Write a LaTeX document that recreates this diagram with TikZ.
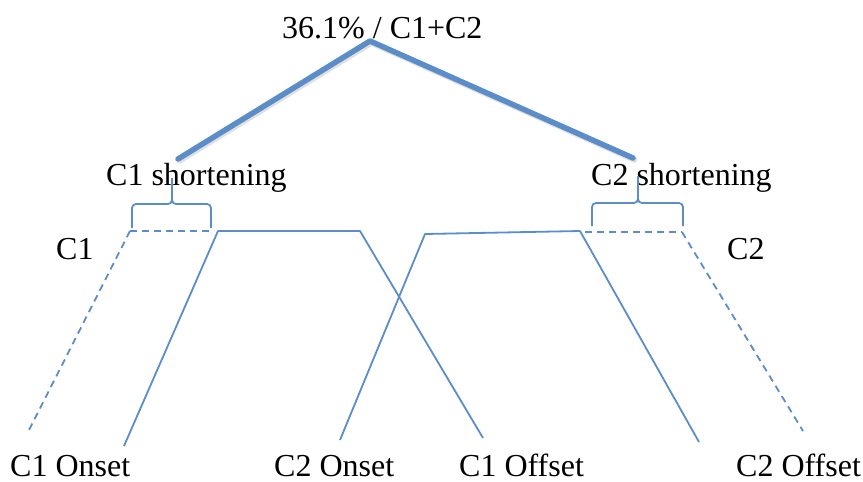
\documentclass[tikz,border=0pt]{standalone}
\usepackage{fontspec}
\setmainfont{Liberation Serif}
\begin{document}
\begin{tikzpicture}[x=1pt,y=-1pt,
  lbl/.style={inner sep=0pt,anchor=base west,font=\fontsize{32}{38}\selectfont},
  thick blue/.style={draw=lineblue,line width=5.5pt,line cap=round,line join=round},
  thin blue/.style={draw=lineblue,line width=1.8pt,line join=round},
  dash blue/.style={draw=lineblue,line width=1.8pt,dash pattern=on 7pt off 5pt},
  bracestyle/.style={draw=lineblue,line width=1.8pt,rounded corners=4pt}]
\definecolor{lineblue}{HTML}{5B8DC8}
\useasboundingbox (0,0) rectangle (863,482);
% text
\node[lbl] (title) at (282,38) {36.1\% / C1+C2};
\node[lbl] (s1) at (106,185) {C1 shortening};
\node[lbl] (s2) at (591,185) {C2 shortening};
\node[lbl] (c1) at (56,259) {C1};
\node[lbl] (c2) at (727,259) {C2};
\node[lbl] (on1) at (10,476) {C1 Onset};
\node[lbl] (on2) at (274,476) {C2 Onset};
\node[lbl] (off1) at (459,476) {C1 Offset};
\node[lbl] (off2) at (736,476) {C2 Offset};
% coordinates
\coordinate (apex) at (370,41);
\coordinate (tl) at (178,159);
\coordinate (tr) at (633,158);
\coordinate (a1) at (130,231);
\coordinate (a2) at (214,231);
\coordinate (a3) at (218,231);
\coordinate (a4) at (360,231);
\coordinate (b1) at (425,234);
\coordinate (b2) at (580,231);
\coordinate (b3) at (585,232);
\coordinate (b4) at (682,232);
\coordinate (e1) at (28,432);
\coordinate (e2) at (124,446);
\coordinate (e3) at (483,438);
\coordinate (e4) at (340,440);
\coordinate (e5) at (699,442);
\coordinate (e6) at (803,431);
% shadow + thick lines
\draw[line width=5.5pt,line cap=round,line join=round,draw=black!12] ([shift={(1.5,2)}]tl) -- ([shift={(1.5,2)}]apex) -- ([shift={(1.5,2)}]tr);
\draw[thick blue] (tl) -- (apex) -- (tr);
% braces
\draw[bracestyle] (132,228) -- (132,204) -- (172,204) -- (172,178);
\draw[bracestyle] (172,190) -- (172,204) -- (211,204) -- (211,228);
\draw[bracestyle] (592,226) -- (592,203) -- (638,203) -- (638,176);
\draw[bracestyle] (638,190) -- (638,203) -- (683,203) -- (683,226);
% C1 structure
\draw[dash blue] (a1) -- (a2);
\draw[dash blue] (a1) -- (e1);
\draw[thin blue] (e2) -- (a3) -- (a4) -- (e3);
% C2 structure
\draw[thin blue] (e4) -- (b1) -- (b2) -- (e5);
\draw[dash blue] (b3) -- (b4);
\draw[dash blue] (b4) -- (e6);
\end{tikzpicture}
\end{document}
